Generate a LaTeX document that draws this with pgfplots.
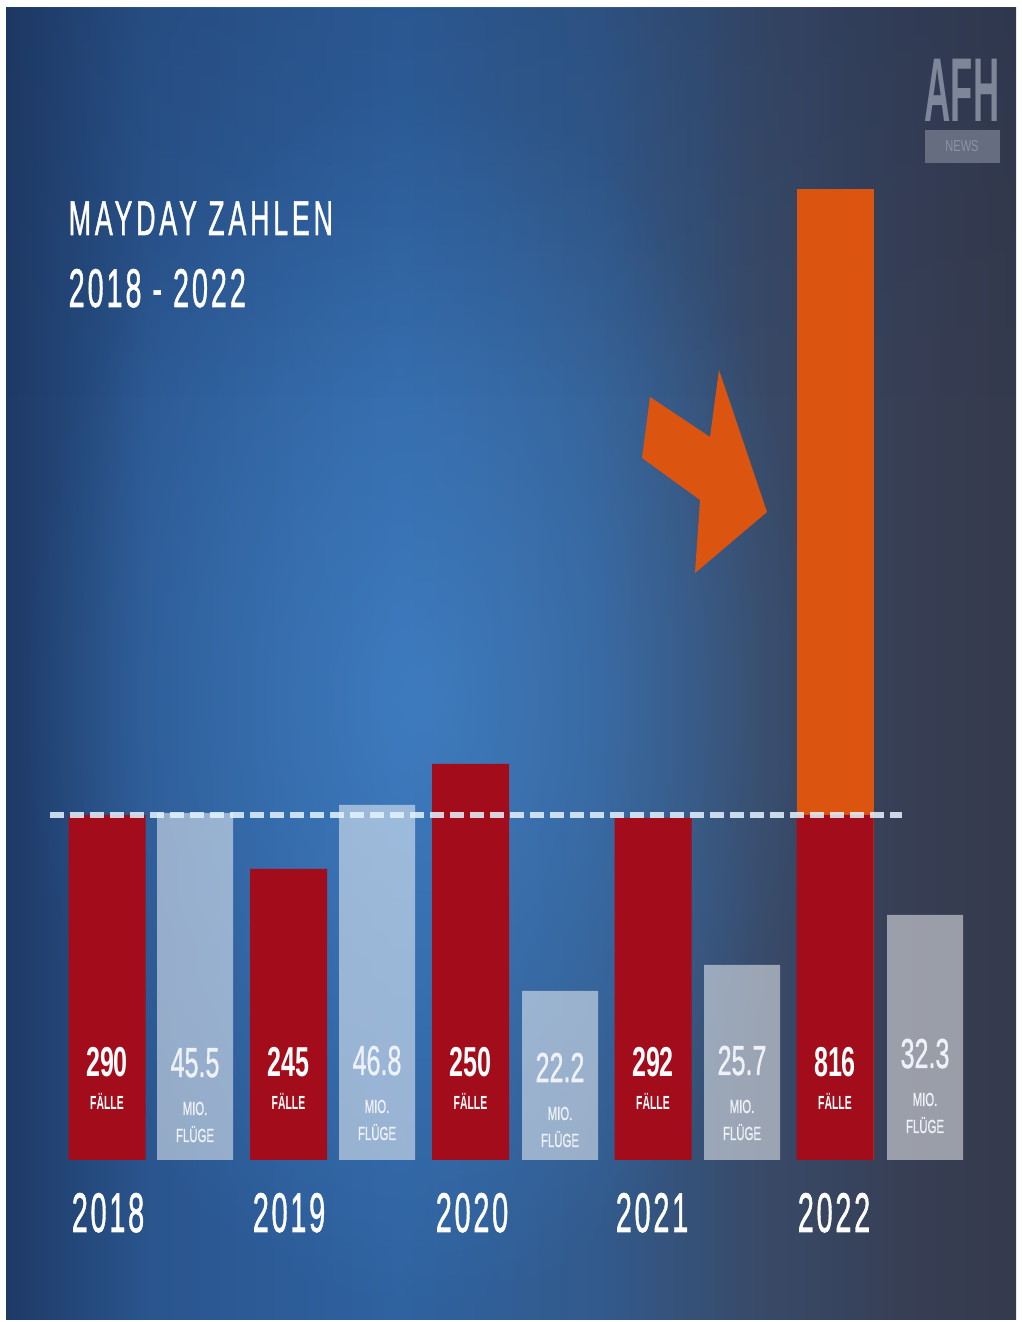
\documentclass[border=0pt]{standalone}
\usepackage{fontspec}
\setmainfont{Liberation Sans}
\usepackage{pgfplots}
\pgfplotsset{compat=1.18}
\usetikzlibrary{fadings}
\newfontfamily\spaced[LetterSpace=14, FakeBold=1.2]{Liberation Sans}
\newfontfamily\spacedb[LetterSpace=10, FakeBold=1.2]{Liberation Sans}
\newfontfamily\yearfont[LetterSpace=9, FakeBold=1.3]{Liberation Sans}
\newfontfamily\medfont[FakeBold=1.2]{Liberation Sans}

\definecolor{bga}{HTML}{1E3A66}
\definecolor{bgb}{HTML}{2A558E}
\definecolor{bgc}{HTML}{2F62A0}
\definecolor{bgd}{HTML}{325A8C}
\definecolor{bge}{HTML}{384A68}
\definecolor{bgf}{HTML}{373F56}
\definecolor{bgg}{HTML}{353A4C}
\definecolor{hl}{HTML}{4A90D8}
\definecolor{topdark}{HTML}{1A2E55}
\definecolor{barred}{HTML}{A30C1A}
\definecolor{barorange}{HTML}{DC5510}
\definecolor{dashcol}{HTML}{E4F4FF}
\definecolor{logotxt}{HTML}{7E8699}
\definecolor{logobox}{HTML}{666D80}
\definecolor{newstxt}{HTML}{8B93A5}
\definecolor{lighttxt}{HTML}{EEF2F8}

\pgfdeclarehorizontalshading{bgshade}{100bp}{color(0bp)=(bga); color(25bp)=(bga); color(32.13bp)=(bgb); color(44.5bp)=(bgc); color(54.4bp)=(bgd); color(62.3bp)=(bge); color(69.3bp)=(bgf); color(75bp)=(bgg); color(100bp)=(bgg)}
\tikzfading[name=softcircle, inner color=transparent!0, outer color=transparent!100]

\newcommand{\rednum}[2]{%
  \node[anchor=base, inner sep=0, text=white] at (#1,83) {\scalebox{0.6}[1]{\fontsize{11.9}{14}\selectfont\bfseries #2}};
  \node[anchor=base, inner sep=0, text=white] at (#1,50) {\scalebox{0.55}[1]{\fontsize{5.4}{6}\selectfont\bfseries FÄLLE}};}
\newcommand{\lightnum}[3]{%
  \node[anchor=base, inner sep=0, text=lighttxt] at (#1,#2) {\scalebox{0.6}[1]{\fontsize{11.9}{14}\selectfont\medfont #3}};
  \node[anchor=base, inner sep=0, text=lighttxt] at (#1,#2-38) {\scalebox{0.6}[1]{\fontsize{5.4}{6}\selectfont\medfont MIO.}};
  \node[anchor=base, inner sep=0, text=lighttxt] at (#1,#2-65) {\scalebox{0.6}[1]{\fontsize{5.4}{6}\selectfont\medfont FLÜGE}};}
\newcommand{\yearlab}[2]{%
  \node[anchor=base, inner sep=0, text=white] at (#1,-72) {\scalebox{0.52}[1]{\fontsize{15.9}{18}\selectfont\yearfont #2}};}

\begin{document}
\begin{tikzpicture}
\begin{axis}[width=10.21cm, height=13.22cm, scale only axis,
  xmin=0, xmax=1021, ymin=-162, ymax=1160, hide axis, clip=false]
% background
\fill[white] (0,-162) rectangle (1021,1160);
\shade[shading=bgshade] (6,-160) rectangle (1016,1152);
\fill[hl, path fading=softcircle, fill opacity=0.55] (420,460) ellipse [x radius=400, y radius=620];
\fill[topdark, path fading=south, fill opacity=0.2] (6,1152) rectangle (1016,760);

% logo
\node[anchor=base, inner sep=0, text=logotxt] at (962,1038) {\scalebox{0.4}[1]{\fontsize{25.8}{28}\selectfont\bfseries AFH}};
\fill[logobox] (925,1030) rectangle (1000,997);
\node[inner sep=0, text=newstxt] at (962,1013.5) {\scalebox{0.7}[1]{\fontsize{4.5}{5}\selectfont NEWS}};

% title
\node[anchor=base west, inner sep=0, text=white] at (68,925) {\scalebox{0.55}[1]{\fontsize{13.9}{16}\selectfont\spaced MAYDAY ZAHLEN}};
\node[anchor=base west, inner sep=0, text=white] at (68,853) {\scalebox{0.53}[1]{\fontsize{15.5}{18}\selectfont\spacedb 2018 - 2022}};

% arrow
\fill[barorange] (650,763) -- (710,723) -- (719,790) -- (767,648) -- (695,587) -- (700,660) -- (642,702) -- cycle;

% bars (heights in picture units above the baseline)
\addplot[ybar, bar width=77, bar shift=0pt, fill=barorange, draw=none] coordinates {(835,971)};
\addplot[ybar, bar width=77, bar shift=0pt, fill=barred, draw=none] coordinates {(107,345) (288.5,291) (470.5,396) (653,342) (835,345)};
\addplot[ybar, bar width=76, bar shift=0pt, fill=white, fill opacity=0.5, draw=none] coordinates {(195,347) (377,355) (560,169) (742,195) (925,245)};

% dashed reference line
\draw[dashcol, line width=0.6mm, dash pattern=on 1.4mm off 0.6mm, opacity=0.85] (50,345) -- (902,345);

% labels in bars
\rednum{107}{290}
\rednum{288.5}{245}
\rednum{470.5}{250}
\rednum{653}{292}
\rednum{835}{816}
\lightnum{195}{83}{45.5}
\lightnum{377}{85}{46.8}
\lightnum{560}{78}{22.2}
\lightnum{742}{85}{25.7}
\lightnum{925}{92}{32.3}

% years
\yearlab{108}{2018}
\yearlab{289}{2019}
\yearlab{472}{2020}
\yearlab{652}{2021}
\yearlab{834}{2022}
\end{axis}
\end{tikzpicture}
\end{document}
